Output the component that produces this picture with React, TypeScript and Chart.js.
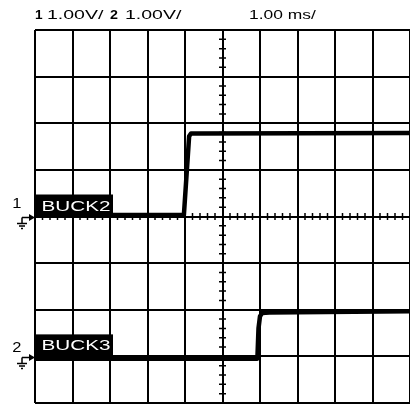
import React, { useEffect, useRef } from "react";
import { Chart, registerables } from "chart.js";

Chart.register(...registerables);

// ---- data (time in ms, voltage in V) ----
const timeCh1 = [0, 3.97, 4.11, 4.16, 4.3, 10];
const voltsCh1 = [0.03, 0.03, 1.72, 1.78, 1.78, 1.79];
const timeCh2 = [0, 5.93, 5.96, 6.0, 6.06, 6.25, 10];
const voltsCh2 = [-0.05, -0.05, 0.6, 0.86, 0.93, 0.94, 0.97];

const channelNames = ["BUCK2", "BUCK3"];
const channelNumbers = ["1", "2"];
const voltsPerDiv = ["1.00V/", "1.00V/"];
const timePerDiv = "1.00 ms/";
// vertical offsets in divisions (ground marker position)
const channelOffsetDiv = [0, -3];

const FONT = "'Liberation Sans', Arial, Helvetica, sans-serif";

function stretchText(
  ctx: CanvasRenderingContext2D,
  text: string,
  x: number,
  y: number,
  font: string,
  sx: number,
  color: string,
  align: CanvasTextAlign = "left"
) {
  ctx.save();
  ctx.font = font;
  ctx.fillStyle = color;
  ctx.textBaseline = "alphabetic";
  ctx.textAlign = align;
  ctx.translate(x, y);
  ctx.scale(sx, 1);
  ctx.fillText(text, 0, 0);
  const w = ctx.measureText(text).width * sx;
  ctx.restore();
  return w;
}

const scopePlugin = {
  id: "scopeDecor",
  beforeDatasetsDraw(chart: any) {
    const ctx: CanvasRenderingContext2D = chart.ctx;
    const xs = chart.scales.x;
    const ys = chart.scales.y;
    const cx = xs.getPixelForValue(5);
    const cy = ys.getPixelForValue(0);
    ctx.save();
    ctx.strokeStyle = "#000";
    ctx.lineWidth = 1.5;
    ctx.beginPath();
    for (let i = 0; i <= 50; i++) {
      if (i % 5 === 0) continue;
      const px = xs.getPixelForValue(i * 0.2);
      ctx.moveTo(px, cy - 3.5);
      ctx.lineTo(px, cy + 3.5);
    }
    for (let i = 0; i <= 40; i++) {
      if (i % 5 === 0) continue;
      const py = ys.getPixelForValue(-4 + i * 0.2);
      ctx.moveTo(cx - 3.5, py);
      ctx.lineTo(cx + 3.5, py);
    }
    ctx.stroke();
    ctx.restore();
  },
  afterDatasetsDraw(chart: any) {
    const ctx: CanvasRenderingContext2D = chart.ctx;
    const area = chart.chartArea;
    const ys = chart.scales.y;

    // header
    const hy = 19;
    stretchText(ctx, channelNumbers[0], 35, hy, `bold 13px ${FONT}`, 1.05, "#000");
    stretchText(ctx, voltsPerDiv[0], 47, hy, `13px ${FONT}`, 1.5, "#000");
    stretchText(ctx, channelNumbers[1], 110, hy, `bold 13px ${FONT}`, 1.1, "#000");
    stretchText(ctx, voltsPerDiv[1], 125, hy, `13px ${FONT}`, 1.5, "#000");
    stretchText(ctx, timePerDiv, 249, hy, `13px ${FONT}`, 1.34, "#000");

    // channel markers and labels
    const numberLift = [8.5, 4];
    for (let c = 0; c < 2; c++) {
      const g = ys.getPixelForValue(channelOffsetDiv[c]);
      // label box
      ctx.save();
      ctx.fillStyle = "#000";
      ctx.fillRect(area.left, g - 22, 78, 22);
      ctx.restore();
      stretchText(ctx, channelNames[c], area.left + 6.5, g - 6, `15px ${FONT}`, 1.38, "#fff");

      // channel number
      stretchText(ctx, channelNumbers[c], 21.5, g - numberLift[c], `15px ${FONT}`, 1.1, "#000", "right");

      // arrow + ground symbol
      ctx.save();
      ctx.strokeStyle = "#000";
      ctx.fillStyle = "#000";
      ctx.lineWidth = 1.5;
      const ay = g + 1;
      ctx.beginPath();
      ctx.moveTo(22, ay);
      ctx.lineTo(31, ay);
      ctx.moveTo(22, ay);
      ctx.lineTo(22, ay + 6);
      ctx.moveTo(17, ay + 6);
      ctx.lineTo(27, ay + 6);
      ctx.moveTo(19, ay + 8.5);
      ctx.lineTo(25, ay + 8.5);
      ctx.moveTo(21, ay + 11);
      ctx.lineTo(23, ay + 11);
      ctx.stroke();
      ctx.beginPath();
      ctx.moveTo(35, ay);
      ctx.lineTo(29, ay - 3.5);
      ctx.lineTo(29, ay + 3.5);
      ctx.closePath();
      ctx.fill();
      ctx.restore();
    }
  },
};

export default function App() {
  const ref = useRef<HTMLCanvasElement | null>(null);
  useEffect(() => {
    if (!ref.current) return;
    const chart = new Chart(ref.current, {
      type: "line",
      data: {
        datasets: [
          {
            label: channelNames[0],
            data: timeCh1.map((t, i) => ({ x: t, y: voltsCh1[i] })),
            yAxisID: "y",
            borderColor: "#000",
            borderWidth: 4.5,
            pointRadius: 0,
            tension: 0,
            borderJoinStyle: "round",
          },
          {
            label: channelNames[1],
            data: timeCh2.map((t, i) => ({ x: t, y: voltsCh2[i] })),
            yAxisID: "y2",
            borderColor: "#000",
            borderWidth: 4.5,
            pointRadius: 0,
            tension: 0,
            borderJoinStyle: "round",
          },
        ],
      },
      options: {
        responsive: false,
        animation: false,
        events: [],
        layout: { padding: { left: 35, top: 30, right: 0, bottom: 6 } },
        plugins: { legend: { display: false }, tooltip: { enabled: false } },
        scales: {
          x: {
            type: "linear",
            min: 0,
            max: 10,
            ticks: { display: false, stepSize: 1 },
            grid: { color: "#000", lineWidth: 2, drawTicks: false },
            border: { display: false },
          },
          y: {
            type: "linear",
            min: -4,
            max: 4,
            ticks: { display: false, stepSize: 1 },
            grid: { color: "#000", lineWidth: 2, drawTicks: false },
            border: { display: false },
          },
          y2: {
            type: "linear",
            min: -1,
            max: 7,
            display: false,
          },
        },
      },
      plugins: [scopePlugin],
    } as any);
    return () => chart.destroy();
  }, []);
  return (
    <div style={{ position: "absolute", left: 0, top: 0, width: 410, height: 409, background: "#fff" }}>
      <canvas ref={ref} width={410} height={409} style={{ display: "block" }} />
    </div>
  );
}
